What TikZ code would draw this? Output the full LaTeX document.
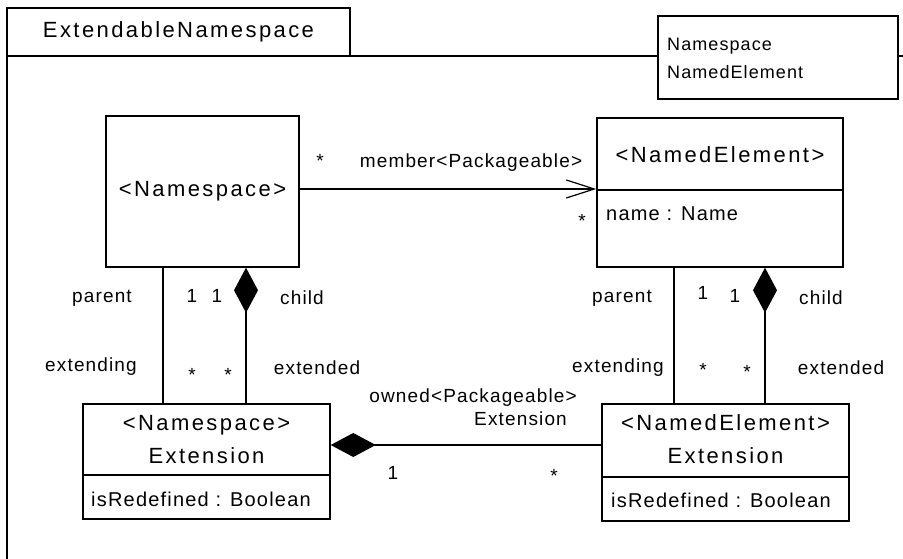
\documentclass[tikz,border=0pt]{standalone}
\usepackage{fontspec}
\setmainfont{Liberation Sans}[LetterSpace=6]
\newfontfamily\classfont{Liberation Sans}[LetterSpace=11]
\usetikzlibrary{arrows.meta}

\begin{document}
\begin{tikzpicture}[x=1pt, y=-1pt,
  cls/.style={draw, line width=1.5pt, fill=white, inner sep=0pt},
  ttl/.style={font=\classfont\fontsize{22}{33}\selectfont, align=center, inner sep=0pt},
  attr/.style={font=\fontsize{20}{24}\selectfont, anchor=west, inner sep=0pt},
  lbl/.style={font=\fontsize{19}{23}\selectfont, inner sep=0pt},
  assoc/.style={line width=1.2pt},
  comp/.style={assoc, {Diamond[length=45pt, width=24pt]}-},
  nav/.style={assoc, -{Straight Barb[length=28pt, width=18pt]}}]
\path[use as bounding box] (0,0) rectangle (903,559);
% package frame
\draw[line width=1.5pt] (7,559) -- (7,56) -- (903,56);
\node[cls, ttl, minimum width=343pt, minimum height=48pt] (pkg) at (178.5,32) {ExtendableNamespace};
\node[cls, minimum width=240pt, minimum height=83pt] (imp) at (778,57.5) {};
\node[font=\fontsize{18}{28}\selectfont, align=left, anchor=west, inner sep=0pt] (impt) at (667,58) {Namespace\\NamedElement};
% classes
\node[cls, ttl, minimum width=193pt, minimum height=151pt] (ns) at (202.5,191.5) {<Namespace>};
\node[cls, minimum width=246pt, minimum height=149pt] (ne) at (720,192.5) {};
\node[ttl] (net) at (720,155) {<NamedElement>};
\draw[line width=1.5pt] (ne.west |- 0,190) -- (ne.east |- 0,190);
\node[attr] (nea) at (606,214) {name : Name};
\node[cls, minimum width=247pt, minimum height=115pt] (nsx) at (206.5,461.5) {};
\node[ttl] (nsxt) at (206.5,439.5) {<Namespace>\\Extension};
\draw[line width=1.5pt] (nsx.west |- 0,475) -- (nsx.east |- 0,475);
\node[attr] (nsxa) at (91,499) {isRedefined : Boolean};
\node[cls, minimum width=247pt, minimum height=117pt] (nex) at (725.5,462.5) {};
\node[ttl] (next) at (725.5,439.5) {<NamedElement>\\Extension};
\draw[line width=1.5pt] (nex.west |- 0,477) -- (nex.east |- 0,477);
\node[attr] (nexa) at (611,500) {isRedefined : Boolean};
% associations
\draw[nav] (ns.east |- 0,189) -- (ne.west |- 0,189);
\draw[assoc] (ns.south -| 163,0) -- (nsx.north -| 163,0);
\draw[comp] (ns.south -| 246,0) -- (nsx.north -| 246,0);
\draw[assoc] (ne.south -| 674,0) -- (nex.north -| 674,0);
\draw[comp] (ne.south -| 765,0) -- (nex.north -| 765,0);
\draw[comp] (nsx.east |- 0,445) -- (nex.west |- 0,445);
% role names and multiplicities
\node[lbl] at (320,161) {*};
\node[lbl] at (471,163) {member<Packageable>};
\node[lbl] at (582,221) {*};
\node[lbl] at (102,298) {parent};
\node[lbl] at (192,296) {1};
\node[lbl] at (217,296) {1};
\node[lbl] at (302,298) {child};
\node[lbl] at (91,367) {extending};
\node[lbl] at (192,375) {*};
\node[lbl] at (228,375) {*};
\node[lbl] at (317,368) {extended};
\node[lbl] at (622,298) {parent};
\node[lbl] at (703,293) {1};
\node[lbl] at (735,296) {1};
\node[lbl] at (821,298) {child};
\node[lbl] at (618,368) {extending};
\node[lbl] at (703,370) {*};
\node[lbl] at (747,372) {*};
\node[lbl] at (841,368) {extended};
\node[lbl, align=right, anchor=north east] at (577,389) {owned<Packageable>\\Extension\hspace*{10pt}};
\node[lbl] at (393,473) {1};
\node[lbl] at (554,476) {*};
\end{tikzpicture}
\end{document}
